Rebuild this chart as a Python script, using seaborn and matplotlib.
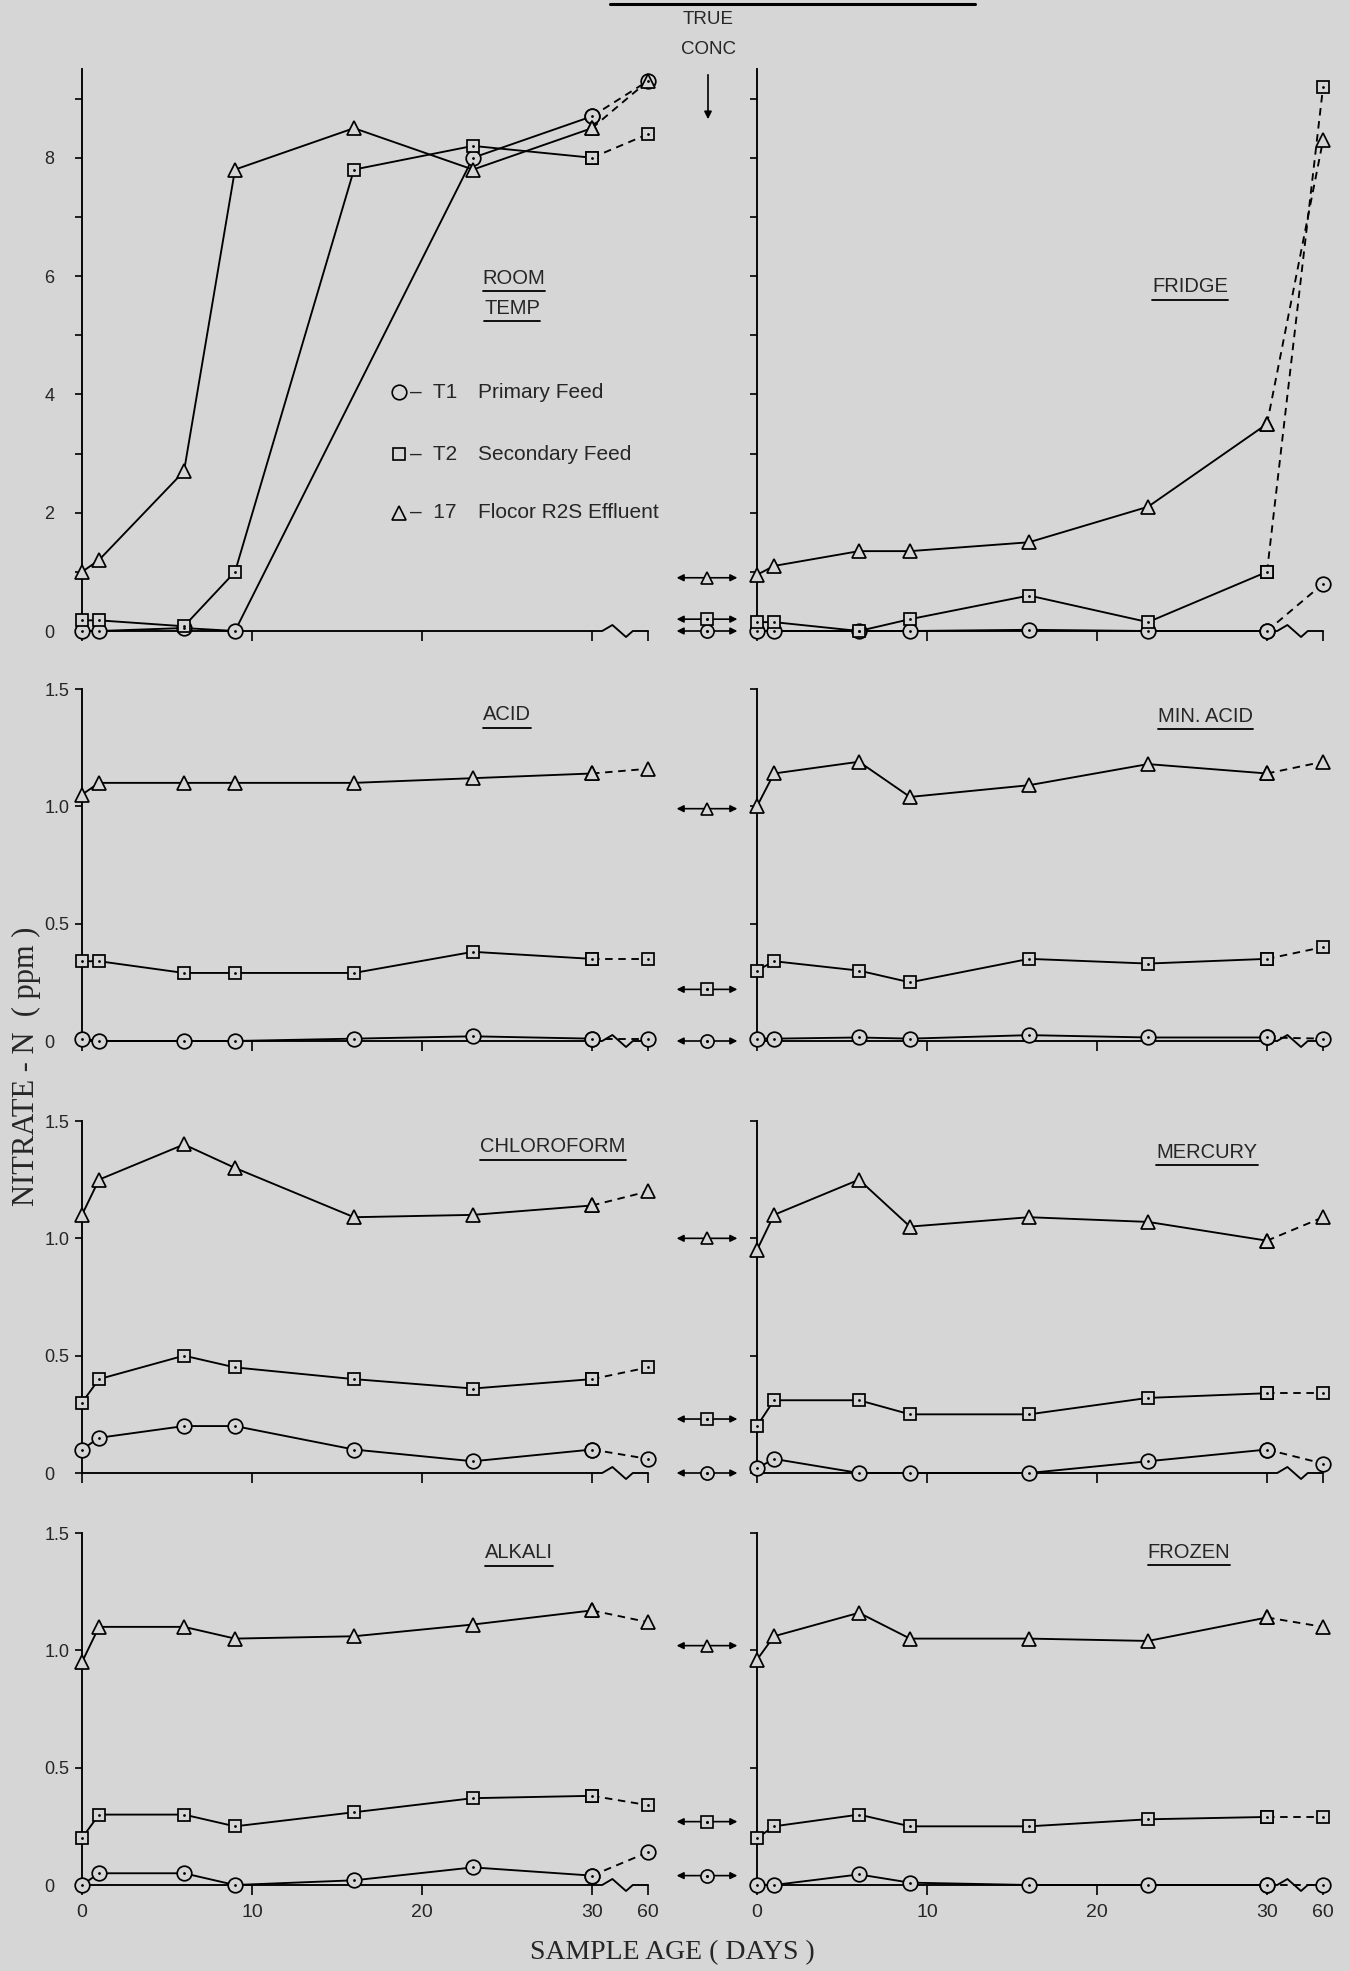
import numpy as np
import pandas as pd
import matplotlib
matplotlib.use("Agg")
import matplotlib.pyplot as plt
from matplotlib import transforms
from matplotlib.lines import Line2D
import seaborn as sns

# sampling days, 60 is drawn just past the axis break
DAYS = [0, 1, 6, 9, 16, 23, 30, 60]
DAY_TICKS = [0, 10, 20, 30, 60]
nan = np.nan

# T1 primary feed (circles), T2 secondary feed (squares), 17 flocor effluent (triangles)
room_t1 = [0.0, 0.0, 0.05, 0.0, nan, 8.0, 8.7, 9.3]
room_t2 = [0.18, 0.18, 0.08, 1.0, 7.8, 8.2, 8.0, 8.4]
room_t17 = [1.0, 1.2, 2.7, 7.8, 8.5, 7.8, 8.5, 9.3]

fridge_t1 = [0.0, 0.0, 0.0, 0.0, 0.02, 0.0, 0.0, 0.8]
fridge_t2 = [0.15, 0.15, 0.0, 0.2, 0.6, 0.15, 1.0, 9.2]
fridge_t17 = [0.95, 1.1, 1.35, 1.35, 1.5, 2.1, 3.5, 8.3]

acid_t1 = [0.01, 0.0, 0.0, 0.0, 0.01, 0.02, 0.01, 0.01]
acid_t2 = [0.34, 0.34, 0.29, 0.29, 0.29, 0.38, 0.35, 0.35]
acid_t17 = [1.05, 1.1, 1.1, 1.1, 1.1, 1.12, 1.14, 1.16]

minacid_t1 = [0.01, 0.01, 0.015, 0.01, 0.025, 0.015, 0.015, 0.01]
minacid_t2 = [0.3, 0.34, 0.3, 0.25, 0.35, 0.33, 0.35, 0.4]
minacid_t17 = [1.0, 1.14, 1.19, 1.04, 1.09, 1.18, 1.14, 1.19]

chloro_t1 = [0.1, 0.15, 0.2, 0.2, 0.1, 0.05, 0.1, 0.06]
chloro_t2 = [0.3, 0.4, 0.5, 0.45, 0.4, 0.36, 0.4, 0.45]
chloro_t17 = [1.1, 1.25, 1.4, 1.3, 1.09, 1.1, 1.14, 1.2]

mercury_t1 = [0.02, 0.06, 0.0, 0.0, 0.0, 0.05, 0.1, 0.04]
mercury_t2 = [0.2, 0.31, 0.31, 0.25, 0.25, 0.32, 0.34, 0.34]
mercury_t17 = [0.95, 1.1, 1.25, 1.05, 1.09, 1.07, 0.99, 1.09]

alkali_t1 = [0.0, 0.05, 0.05, 0.0, 0.02, 0.075, 0.04, 0.14]
alkali_t2 = [0.2, 0.3, 0.3, 0.25, 0.31, 0.37, 0.38, 0.34]
alkali_t17 = [0.95, 1.1, 1.1, 1.05, 1.06, 1.11, 1.17, 1.12]

frozen_t1 = [0.0, 0.0, 0.045, 0.01, 0.0, 0.0, 0.0, 0.0]
frozen_t2 = [0.2, 0.25, 0.3, 0.25, 0.25, 0.28, 0.29, 0.29]
frozen_t17 = [0.96, 1.06, 1.16, 1.05, 1.05, 1.04, 1.14, 1.1]

# true concentrations, one value per row of panels
true_t1 = [0.0, 0.0, 0.0, 0.04]
true_t2 = [0.2, 0.22, 0.23, 0.27]
true_t17 = [0.9, 0.99, 1.0, 1.02]

Y_MAX = [9.5, 1.5, 1.5, 1.5]

# (row, col) -> series
PANELS = {
    (0, 0): (room_t1, room_t2, room_t17),
    (0, 1): (fridge_t1, fridge_t2, fridge_t17),
    (1, 0): (acid_t1, acid_t2, acid_t17),
    (1, 1): (minacid_t1, minacid_t2, minacid_t17),
    (2, 0): (chloro_t1, chloro_t2, chloro_t17),
    (2, 1): (mercury_t1, mercury_t2, mercury_t17),
    (3, 0): (alkali_t1, alkali_t2, alkali_t17),
    (3, 1): (frozen_t1, frozen_t2, frozen_t17),
}

W, H = 1350, 1971
BG = "#d6d6d6"
ROWS_PX = [(69, 631), (689, 1041), (1121, 1473), (1533, 1885)]
COLS_PX = [(82, 660), (757, 1335)]
MID_PX = (675, 739)
SANS = ["Liberation Sans", "DejaVu Sans"]
SERIF = ["Liberation Serif", "DejaVu Serif"]

MARKERS = [("o", 10.5), ("s", 9), ("^", 10)]
LW = 1.35


def rect(left, top, right, bottom):
    return [left / W, 1 - bottom / H, (right - left) / W, (bottom - top) / H]


def day_pos(d):
    # broken axis: everything after day 30 is squeezed in past the zigzag
    return d if d <= 30 else 33.3


def draw_series(ax, values, marker, ms):
    df = pd.DataFrame({"x": [day_pos(d) for d in DAYS], "y": values}).dropna()
    style = dict(color="black", lw=LW, marker=marker, ms=ms, mfc=BG, mec="black",
                 mew=1.25, clip_on=False, zorder=3)
    sns.lineplot(data=df[df.x <= 30], x="x", y="y", ax=ax, **style)
    sns.lineplot(data=df[df.x >= 30], x="x", y="y", ax=ax, ls=(0, (4, 3)), **style)
    if marker != "^":
        sns.scatterplot(data=df, x="x", y="y", ax=ax, s=4, color="black",
                        linewidth=0, zorder=4, clip_on=False)


sns.set_style("ticks")
plt.rcParams["font.family"] = SANS

fig = plt.figure(figsize=(W / 100, H / 100), dpi=100, facecolor=BG)

for r, (top, bottom) in enumerate(ROWS_PX):
    ymax = Y_MAX[r]
    hpx = bottom - top
    for c, (left, right) in enumerate(COLS_PX):
        ax = fig.add_axes(rect(left, top, right, bottom))
        ax.set_facecolor("none")
        for values, (marker, ms) in zip(PANELS[(r, c)], MARKERS):
            draw_series(ax, values, marker, ms)
        ax.set_xlim(0, 34)
        ax.set_ylim(0, ymax)
        ax.set(xlabel="", ylabel="")
        for s in ["top", "right", "bottom"]:
            ax.spines[s].set_visible(False)
        ax.spines["left"].set_linewidth(LW)
        ax.spines["left"].set_color("black")

        # bottom axis with the zigzag break between 30 and 60
        tr = transforms.blended_transform_factory(ax.transData, ax.transAxes)
        a = 6 / hpx
        ax.plot([0, 30.6, 31.2, 32.0, 32.4, 33.3], [0, 0, a, -a, 0, 0],
                transform=tr, color="black", lw=LW, clip_on=False, zorder=2)

        if r == 0:
            yt = list(range(10))
            ylab = [str(v) if v % 2 == 0 else "" for v in yt]
        else:
            yt = [0, 0.5, 1.0, 1.5]
            ylab = ["0", "0.5", "1.0", "1.5"]
        ax.set_yticks(yt)
        ax.set_xticks([day_pos(d) for d in DAY_TICKS])
        ax.tick_params(axis="y", direction="out", length=5, width=1.2, color="black",
                       pad=22, labelsize=13)
        ax.tick_params(axis="x", direction="out", length=7, width=1.2, color="black",
                       pad=7, labelsize=14)
        if c == 0:
            ax.set_yticklabels(ylab)
            for lbl in ax.get_yticklabels():
                lbl.set_horizontalalignment("left")
        else:
            ax.set_yticklabels([])
        if r == 3:
            ax.set_xticklabels([str(d) for d in DAY_TICKS])
        else:
            ax.set_xticklabels([])

    # true concentration markers between the two columns
    axm = fig.add_axes(rect(MID_PX[0], top, MID_PX[1], bottom))
    axm.set_xlim(-1, 1)
    axm.set_ylim(0, ymax)
    axm.axis("off")
    for val, (marker, ms) in zip((true_t1[r], true_t2[r], true_t17[r]), MARKERS):
        axm.annotate("", xy=(-0.95, val), xytext=(0.95, val),
                     arrowprops=dict(arrowstyle="<|-|>", color="black", lw=1.2,
                                     mutation_scale=10, shrinkA=0, shrinkB=0),
                     annotation_clip=False)
        axm.plot([0], [val], marker=marker, ms=ms * 0.9, mfc=BG, mec="black",
                 mew=1.2, clip_on=False, zorder=3)
        if marker != "^":
            axm.plot([0], [val], marker=".", ms=2.5, color="black", clip_on=False, zorder=4)


def ftext(x, y, s, **kw):
    return fig.text(x / W, 1 - y / H, s, **kw)


# legend inside the room temperature panel
legend_rows = [("o", 10.5, "–  T1", "Primary Feed", 392),
               ("s", 9, "–  T2", "Secondary Feed", 454),
               ("^", 10, "–  17", "Flocor R2S Effluent", 513)]
for marker, ms, code, name, y in legend_rows:
    fig.add_artist(Line2D([399 / W], [1 - y / H], marker=marker, ms=ms, mfc=BG,
                          mec="black", mew=1.2, transform=fig.transFigure))
    ftext(410, y, code, fontsize=15, va="center", ha="left")
    ftext(478, y, name, fontsize=15, va="center", ha="left")

# panel titles (underlined)
titles = [("ROOM", 514, 278), ("TEMP", 512, 308), ("FRIDGE", 1190, 287),
          ("ACID", 507, 715), ("MIN. ACID", 1205, 717),
          ("CHLOROFORM", 553, 1147), ("MERCURY", 1207, 1152),
          ("ALKALI", 519, 1553), ("FROZEN", 1189, 1552)]
title_texts = [ftext(x, y, s, fontsize=14.5, ha="center", va="center") for s, x, y in titles]

# TRUE CONC header with its arrow
ftext(708, 19, "TRUE", fontsize=13.5, ha="center", va="center")
ftext(708, 49, "CONC", fontsize=13.5, ha="center", va="center")
fig.add_artist(matplotlib.patches.FancyArrowPatch(
    (708 / W, 1 - 72 / H), (708 / W, 1 - 122 / H), transform=fig.transFigure,
    arrowstyle="-|>", mutation_scale=11, lw=1.2, color="black"))
fig.add_artist(Line2D([610 / W, 975 / W], [1 - 4 / H, 1 - 4 / H], lw=2.2,
                      color="black", transform=fig.transFigure))

# axis labels
ftext(26, 1066, "NITRATE - N  ( ppm )", family=SERIF, fontsize=22,
      rotation=90, ha="center", va="center")
ftext(672, 1953, "SAMPLE AGE ( DAYS )", family=SERIF, fontsize=20,
      ha="center", va="center")

fig.canvas.draw()
inv = fig.transFigure.inverted()
for t in title_texts:
    bb = t.get_window_extent()
    (x0, y0), (x1, _) = inv.transform([(bb.x0, bb.y0 - 3), (bb.x1, bb.y0 - 3)])
    fig.add_artist(Line2D([x0, x1], [y0, y0], lw=1.3, color="black",
                          transform=fig.transFigure))

fig.savefig("out.png", dpi=100, facecolor=BG)
